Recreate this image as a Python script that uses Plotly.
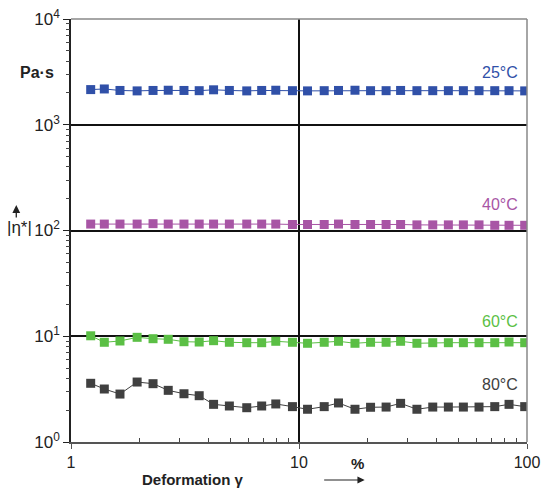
import plotly.graph_objects as go

strain = [1.22, 1.40, 1.64, 1.95, 2.29, 2.67, 3.13, 3.65, 4.22, 4.95, 5.90, 6.86, 7.91, 9.36,
          10.9, 12.9, 14.9, 17.6, 20.6, 24.1, 27.9, 32.9, 38.6, 45.2, 52.6, 61.6, 72.2, 83.4, 97.7]

eta_25 = [2150, 2180, 2110, 2090, 2110, 2120, 2110, 2100, 2140, 2110, 2090, 2110, 2120, 2100,
          2090, 2100, 2110, 2120, 2100, 2100, 2110, 2100, 2100, 2100, 2100, 2100, 2100, 2100, 2090]
eta_40 = [115, 115, 115, 115, 116, 115, 115, 115, 115, 115, 115, 115, 115, 114,
          114, 114, 115, 114, 114, 114, 114, 113, 113, 113, 113, 113, 112, 112, 112]
eta_60 = [10.1, 8.77, 9.02, 9.77, 9.48, 9.36, 8.88, 8.82, 9.08, 8.77, 8.69, 8.69, 8.96, 8.77,
          8.58, 8.77, 8.96, 8.58, 8.77, 8.77, 8.96, 8.58, 8.69, 8.69, 8.69, 8.69, 8.69, 8.82, 8.69]
eta_80 = [3.59, 3.17, 2.84, 3.69, 3.56, 3.08, 2.86, 2.74, 2.27, 2.19, 2.11, 2.19, 2.29, 2.16,
          2.04, 2.16, 2.34, 2.04, 2.13, 2.14, 2.32, 2.04, 2.14, 2.14, 2.14, 2.14, 2.16, 2.27, 2.16]

y_tickvals = [1, 10, 100, 1000, 10000]
y_ticktext = ["10<sup>0</sup>", "10<sup>1</sup>", "10<sup>2</sup>", "10<sup>3</sup>", "10<sup>4</sup>"]
x_tickvals = [1, 10, 100]
x_ticktext = ["1", "10", "100"]

x_minor = [m * 10 ** d for d in range(0, 2) for m in range(2, 10)]
y_minor = [m * 10 ** d for d in range(0, 4) for m in range(2, 10)]

series = [
    ("25°C", eta_25, "#3050A8", 0.8747),
    ("40°C", eta_40, "#A855A5", 0.5603),
    ("60°C", eta_60, "#5BBF45", 0.286),
    ("80°C", eta_80, "#404040", 0.1348),
]

FONT = "Liberation Sans, Arial, sans-serif"

fig = go.Figure()

# transparent copy of one series on the overlay axes that carry the minor ticks
fig.add_trace(go.Scatter(x=strain, y=eta_25, xaxis="x2", yaxis="y2", mode="markers",
                         marker=dict(opacity=0), showlegend=False, hoverinfo="skip"))

annotations = []
for name, vals, color, ly in series:
    fig.add_trace(go.Scatter(
        x=strain, y=vals, mode="lines+markers", name=name,
        line=dict(color=color, width=1),
        marker=dict(symbol="square", size=9, color=color, line=dict(width=0)),
        showlegend=False,
    ))
    annotations.append(dict(
        text=name, xref="paper", yref="paper", x=0.9846, y=ly,
        xanchor="right", yanchor="middle", showarrow=False,
        font=dict(family=FONT, size=16, color=color),
    ))

annotations += [
    dict(text="<b>Pa·s</b>", xref="paper", yref="paper", x=-0.0746, y=0.8747,
         xanchor="center", yanchor="middle", showarrow=False,
         font=dict(family=FONT, size=16, color="#222")),
    dict(text="|η*|", xref="paper", yref="paper", x=-0.112, y=0.506,
         xanchor="center", yanchor="middle", showarrow=False,
         font=dict(family=FONT, size=17, color="#222")),
    dict(text="", xref="paper", yref="paper", x=-0.12, y=0.56,
         ax=0, ay=14, showarrow=True, arrowhead=2, arrowsize=1.2, arrowwidth=1.3,
         arrowcolor="#222"),
    dict(text="<b>%</b>", xref="paper", yref="paper", x=0.629, y=-0.05,
         xanchor="center", yanchor="middle", showarrow=False,
         font=dict(family=FONT, size=15, color="#222")),
    dict(text="<b>Deformation γ</b>", xref="paper", yref="paper", x=0.2675, y=-0.0898,
         xanchor="center", yanchor="middle", showarrow=False,
         font=dict(family=FONT, size=15, color="#222")),
    dict(text="", xref="paper", yref="paper", x=0.644, y=-0.0898,
         ax=-42, ay=0, showarrow=True, arrowhead=2, arrowsize=1.2, arrowwidth=1.2,
         arrowcolor="#222"),
]

fig.update_layout(
    width=542, height=488,
    margin=dict(l=71, r=15, t=19, b=46),
    paper_bgcolor="white", plot_bgcolor="white",
    font=dict(family=FONT, color="#222"),
    annotations=annotations,
    shapes=[
        dict(type="line", xref="paper", yref="paper", x0=1, x1=1, y0=0, y1=1,
             line=dict(color="#888", width=1.5)),
        dict(type="line", xref="paper", yref="paper", x0=0, x1=1, y0=1, y1=1,
             line=dict(color="#888", width=1.5)),
    ],
    xaxis=dict(
        type="log", range=[0, 2], tickmode="array", tickvals=x_tickvals, ticktext=x_ticktext,
        automargin=False,
        showgrid=True, gridcolor="#111", gridwidth=1.5,
        showline=True, linecolor="#555", linewidth=1.5,
        ticks="outside", ticklen=5, tickcolor="#555",
        tickfont=dict(family=FONT, size=16, color="#222"),
        zeroline=False,
    ),
    yaxis=dict(
        type="log", range=[0, 4], tickmode="array", tickvals=y_tickvals, ticktext=y_ticktext,
        automargin=False,
        showgrid=True, gridcolor="#111", gridwidth=1.5,
        showline=True, linecolor="#222", linewidth=1.5,
        ticks="outside", ticklen=6, tickcolor="#222",
        tickfont=dict(family=FONT, size=17, color="#222"),
        zeroline=False,
    ),
    xaxis2=dict(
        type="log", range=[0, 2], overlaying="x", anchor="y2", side="bottom",
        tickmode="array", tickvals=x_minor, showticklabels=False,
        ticks="inside", ticklen=4, tickwidth=1, tickcolor="#444",
        showgrid=False, showline=False, zeroline=False, automargin=False,
    ),
    yaxis2=dict(
        type="log", range=[0, 4], overlaying="y", anchor="x2", side="left",
        tickmode="array", tickvals=y_minor, showticklabels=False,
        ticks="outside", ticklen=4, tickwidth=1, tickcolor="#444",
        showgrid=False, showline=False, zeroline=False, automargin=False,
    ),
)

fig.write_html("out.html")
